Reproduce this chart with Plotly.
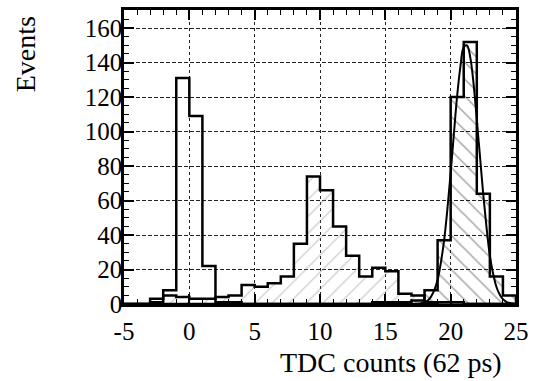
import plotly.graph_objects as go

# ---- data ----
bin_edges = list(range(-5, 26))  # 30 bins of width 1 TDC count

# unfilled histogram (peak near 0)
hist_a = [0, 0, 3, 8, 131, 109, 22, 1, 1, 0,
          0, 0, 0, 0, 0, 0, 0, 0, 0, 0,
          0, 0, 0, 0, 1, 1, 0, 0, 0, 0]
# light "/" hatched histogram (broad peak near 10)
hist_b = [0, 0, 1, 5, 4, 3, 3, 4, 5, 11,
          10, 12, 16, 35, 74, 66, 45, 28, 16, 21,
          19, 6, 5, 1, 1, 1, 0, 0, 0, 0]
# dark "\" hatched histogram (peak near 21)
hist_c = [0, 0, 0, 0, 0, 0, 0, 0, 0, 0,
          0, 0, 0, 0, 0, 0, 0, 0, 0, 1,
          1, 1, 2, 8, 37, 120, 152, 64, 16, 5]

# fitted curve over the right peak
fit_x = [17.5, 17.75, 18.0, 18.25, 18.5, 18.75, 19.0, 19.25, 19.5, 19.75,
         20.0, 20.25, 20.5, 20.75, 21.0, 21.25, 21.5, 21.75, 22.0, 22.25,
         22.5, 22.75, 23.0, 23.25, 23.5, 23.75, 24.0, 24.25, 24.5, 24.75, 25.0]
fit_y = [0.2, 0.5, 1.0, 2.0, 4.3, 8.0, 14, 24, 37, 55,
         76, 99, 121, 138, 149, 150, 143, 128, 107, 85,
         63, 44, 28, 17.5, 10, 5.5, 2.8, 1.3, 0.6, 0.25, 0.1]

x_tick_vals = [-5, 0, 5, 10, 15, 20, 25]
x_tick_text = ["-5", "0", "5", "10", "15", "20", "25"]
y_tick_vals = [0, 20, 40, 60, 80, 100, 120, 140, 160]
y_tick_text = ["0", "20", "40", "60", "80", "100", "120", "140", "160"]


def step_outline(values):
    xs = [bin_edges[0]] + bin_edges
    ys = [0] + list(values) + [0]
    return xs, ys


FONT = "Liberation Serif, Times New Roman, DejaVu Serif, serif"
fig = go.Figure()

bx, by = step_outline(hist_b)
fig.add_trace(go.Scatter(
    x=bx, y=by, mode="lines", line=dict(shape="hv", color="black", width=2.5),
    fill="tozeroy",
    fillpattern=dict(shape="/", fgcolor="#888888", bgcolor="rgba(0,0,0,0)",
                     size=12, solidity=0.1),
    fillcolor="rgba(0,0,0,0)", showlegend=False, hoverinfo="skip"))

cx, cy = step_outline(hist_c)
fig.add_trace(go.Scatter(
    x=cx, y=cy, mode="lines", line=dict(shape="hv", color="black", width=2.5),
    fill="tozeroy",
    fillpattern=dict(shape="\\", fgcolor="#111111", bgcolor="rgba(0,0,0,0)",
                     size=12, solidity=0.1),
    fillcolor="rgba(0,0,0,0)", showlegend=False, hoverinfo="skip"))

ax, ay = step_outline(hist_a)
fig.add_trace(go.Scatter(
    x=ax, y=ay, mode="lines", line=dict(shape="hv", color="black", width=2.5),
    showlegend=False, hoverinfo="skip"))

fig.add_trace(go.Scatter(
    x=fit_x, y=fit_y, mode="lines", line=dict(shape="spline", color="black", width=2),
    showlegend=False, hoverinfo="skip"))

axis_common = dict(
    showline=True, linecolor="black", linewidth=2.5, mirror="allticks",
    ticks="inside", tickcolor="black", tickwidth=1.5, ticklen=10,
    showgrid=True, gridcolor="#222222", gridwidth=1,
    zeroline=False,
    tickfont=dict(family=FONT, size=25, color="black"),
)

fig.update_layout(
    width=536, height=381,
    margin=dict(l=124, r=19, t=7, b=77),
    paper_bgcolor="white", plot_bgcolor="white",
    font=dict(family=FONT, color="black"),
    xaxis=dict(range=[-5, 25], tickmode="array", tickvals=x_tick_vals,
               ticktext=x_tick_text, griddash="3px,3px", ticklabelstandoff=3,
               minor=dict(dtick=1, ticks="inside", ticklen=5, tickcolor="black",
                          tickwidth=1.2, showgrid=False),
               **axis_common),
    yaxis=dict(range=[0, 170.5], tickmode="array", tickvals=y_tick_vals,
               ticktext=y_tick_text, griddash="4px,2px", ticklabelstandoff=-6,
               minor=dict(dtick=5, ticks="inside", ticklen=5, tickcolor="black",
                          tickwidth=1.2, showgrid=False),
               **axis_common),
    annotations=[
        dict(text="TDC counts (62 ps)", xref="paper", yref="paper", x=1, y=0,
             xanchor="right", yanchor="middle", xshift=-12, yshift=-58,
             showarrow=False, font=dict(family=FONT, size=28, color="black")),
        dict(text="Events", xref="paper", yref="paper", x=-0.252, y=0.85,
             xanchor="center", yanchor="middle", textangle=-90,
             showarrow=False, font=dict(family=FONT, size=28, color="black")),
    ],
)

fig.write_html("out.html")
